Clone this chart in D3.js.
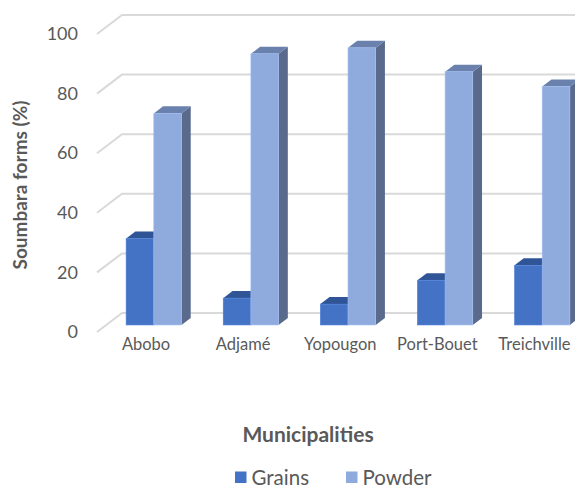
<!DOCTYPE html>
<html><head><meta charset="utf-8">
<script src="https://cdn.jsdelivr.net/npm/d3@7"></script>
<style>
html,body{margin:0;padding:0;background:#fff;}
svg{display:block;font-family:Lato, "Open Sans", sans-serif;}
</style></head>
<body>
<svg id="chart" width="575" height="487"></svg>
<script>
const categories = ["Abobo", "Adjamé", "Yopougon", "Port-Bouet", "Treichville"];
const seriesNames = ["Grains", "Powder"];
const grains = [29, 9, 7, 15, 20];
const powder = [71, 91, 93, 85, 80];
const yTicks = [0, 20, 40, 60, 80, 100];
const yTitle = "Soumbara forms (%)";
const xTitle = "Municipalities";

const svg = d3.select("#chart");
const W = 575;
const depthX = 25, depthY = -19;          // full depth of the plot box
const barD0 = 0.37, barD1 = 0.74;          // bar depth extent (fractions)
const colors = {
  Grains: {front: "#4472C4", top: "#2F5597", side: "#2B4C85"},
  Powder: {front: "#8FAADC", top: "#6A81AE", side: "#5A6A8C"}
};

const x0 = d3.scaleBand().domain(categories).range([96, 581.5]).paddingInner(0.43).paddingOuter(0.215);
const x1 = d3.scaleBand().domain(seriesNames).range([0, x0.bandwidth()]);
const y = d3.scaleLinear().domain([0, 100]).range([332, 34]);

const proj = (x, v, d) => [x + d * depthX, y(v) + d * depthY];

// gridlines (side wall diagonal + back wall)
const grid = svg.append("g");
yTicks.forEach(t => {
  const a = proj(97, t, 0), b = proj(97, t, 1);
  grid.append("path")
    .attr("d", `M${a[0]},${a[1]}L${b[0]},${b[1]}L${W + 5},${b[1]}`)
    .attr("fill", "none").attr("stroke", "#D9D9D9").attr("stroke-width", 2);
});

// y axis labels
const yAxis = d3.axisLeft(y).tickValues(yTicks).tickSize(0).tickPadding(19);
const yg = svg.append("g").attr("transform", "translate(97,0)").call(yAxis);
yg.select(".domain").remove();
yg.selectAll("text").attr("fill", "#595959").style("font-size", "18px").style("font-family", "Lato, sans-serif");

// bars
const data = categories.map((c, i) => ({cat: c, vals: [{s: "Grains", v: grains[i]}, {s: "Powder", v: powder[i]}]}));
const poly = pts => "M" + pts.map(p => p.join(",")).join("L") + "Z";
const bars = svg.append("g");
data.forEach(d => {
  d.vals.forEach(e => {
    const xl = x0(d.cat) + x1(e.s), xr = xl + x1.bandwidth();
    const c = colors[e.s];
    const g = bars.append("g");
    // side
    g.append("path").attr("d", poly([proj(xr, 0, barD0), proj(xr, 0, barD1), proj(xr, e.v, barD1), proj(xr, e.v, barD0)]))
      .attr("fill", c.side);
    // top
    g.append("path").attr("d", poly([proj(xl, e.v, barD0), proj(xr, e.v, barD0), proj(xr, e.v, barD1), proj(xl, e.v, barD1)]))
      .attr("fill", c.top);
    // front
    const p0 = proj(xl, e.v, barD0), p1 = proj(xr, 0, barD0);
    g.append("rect").attr("x", p0[0]).attr("y", p0[1]).attr("width", p1[0] - p0[0]).attr("height", p1[1] - p0[1])
      .attr("fill", c.front).attr("stroke", d3.color(c.front).brighter(0.3)).attr("stroke-width", 0.6);
  });
});

// x axis labels
const xAxis = d3.axisBottom(x0).tickSize(0).tickPadding(0);
const xg = svg.append("g").attr("transform", "translate(1.5,338)").call(xAxis);
xg.select(".domain").remove();
xg.selectAll("text").attr("fill", "#595959").style("font-size", "16.5px").style("font-family", "Lato, sans-serif").attr("dy", "0.71em");

// axis titles
svg.append("text").attr("transform", "translate(27,185) rotate(-90)").attr("text-anchor", "middle")
  .attr("fill", "#595959").style("font-size", "19px").style("font-weight", "bold").text(yTitle);
svg.append("text").attr("x", 308).attr("y", 442).attr("text-anchor", "middle")
  .attr("fill", "#595959").style("font-size", "21px").style("font-weight", "bold").text(xTitle);

// legend
const legendX = [235, 346];
const lg = svg.append("g");
seriesNames.forEach((s, i) => {
  lg.append("rect").attr("x", legendX[i]).attr("y", 471.5).attr("width", 11.5).attr("height", 11.5).attr("fill", colors[s].front);
  lg.append("text").attr("x", legendX[i] + 16.5).attr("y", 484.5).attr("fill", "#595959").style("font-size", "20.5px").text(s);
});
</script>
</body></html>
